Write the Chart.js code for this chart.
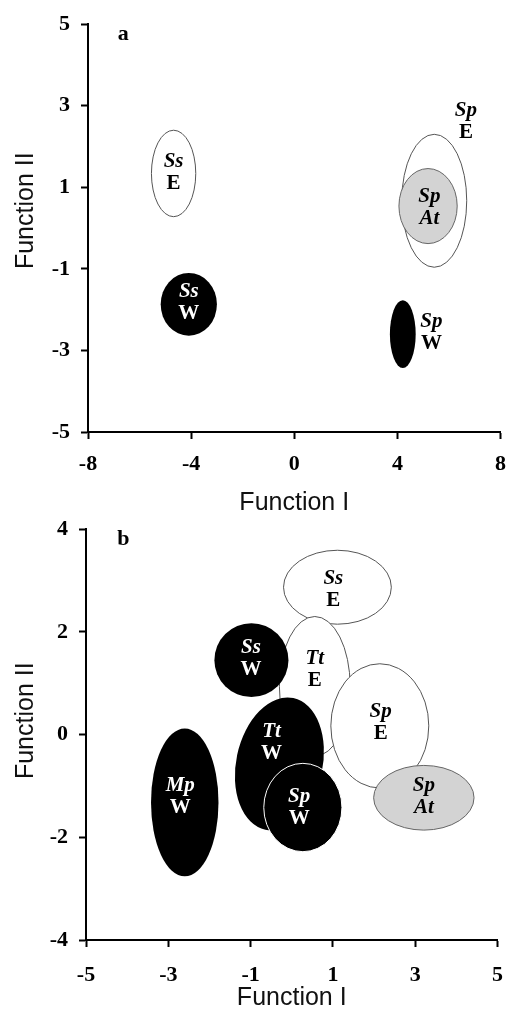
<!DOCTYPE html>
<html lang="en">
<head>
<meta charset="UTF-8">
<title>Discriminant functions</title>
<script src="https://cdn.jsdelivr.net/npm/chart.js"></script>
<style>
  html, body { margin: 0; padding: 0; background: #fff; }
  body { width: 518px; height: 1028px; position: relative; overflow: hidden; }
  canvas { position: absolute; left: 0; }
  #chartA { top: 0; }
  #chartB { top: 505px; }
</style>
</head>
<body>
<canvas id="chartA" width="518" height="518"></canvas>
<canvas id="chartB" width="518" height="523"></canvas>

<script>
// ---- panel a ----
const ticksAx = [-8, -4, 0, 4, 8];
const ticksAy = [-5, -3, -1, 1, 3, 5];
const speciesA = ['Ss', 'Ss', 'Sp', 'Sp', 'Sp'];
const groupA   = ['E', 'W', 'E', 'At', 'W'];
const centerAx = [-4.68, -4.09, 5.43, 5.19, 4.21];
const centerAy = [1.34, -1.87, 0.67, 0.54, -2.60];
const radiusAx = [0.86, 1.09, 1.26, 1.13, 0.50];
const radiusAy = [1.06, 0.77, 1.63, 0.92, 0.83];
const tiltA    = [0, 0, 0, 0, 0];
const labelAx  = [-4.68, -4.09, 6.66, 5.24, 5.32];
const labelAy  = [1.36, -1.82, 2.61, 0.50, -2.56];

// ---- panel b ----
const ticksBx = [-5, -3, -1, 1, 3, 5];
const ticksBy = [-4, -2, 0, 2, 4];
const speciesB = ['Ss', 'Tt', 'Sp', 'Sp', 'Ss', 'Tt', 'Mp', 'Sp'];
const groupB   = ['E', 'E', 'E', 'At', 'W', 'W', 'W', 'W'];
const centerBx = [1.11, 0.56, 2.14, 3.21, -0.98, -0.30, -2.60, 0.27];
const centerBy = [2.87, 0.94, 0.17, -1.23, 1.45, -0.57, -1.32, -1.42];
const radiusBx = [1.31, 0.86, 1.19, 1.22, 0.90, 1.05, 0.82, 0.95];
const radiusBy = [0.72, 1.36, 1.21, 0.63, 0.72, 1.31, 1.44, 0.86];
const tiltB    = [0, 0, 0, 0, 0, 12, 0, 0];
const labelBx  = [1.01, 0.56, 2.16, 3.21, -0.99, -0.49, -2.71, 0.18];
const labelBy  = [2.82, 1.26, 0.24, -1.20, 1.48, -0.16, -1.20, -1.43];

// look of each group
const fillFor   = { E: '#ffffff', W: '#000000', At: '#d3d3d3' };
const strokeFor = { E: '#555555', W: null, At: '#666666' };
const textFor   = { E: '#000000', W: '#ffffff', At: '#000000' };

const serif = "'Liberation Serif', 'Times New Roman', serif";
const sans = "'Liberation Sans', Arial, sans-serif";

// ellipses + their labels, placed through the chart scales
function ellipsePlugin(p) {
  return {
    id: 'ellipses',
    beforeDatasetsDraw(chart) {
      const { ctx, scales: { x, y } } = chart;
      ctx.save();
      p.species.forEach((sp, i) => {
        const cx = x.getPixelForValue(p.cx[i]);
        const cy = y.getPixelForValue(p.cy[i]);
        const rx = Math.abs(x.getPixelForValue(p.cx[i] + p.rx[i]) - cx);
        const ry = Math.abs(y.getPixelForValue(p.cy[i] + p.ry[i]) - cy);
        const g = p.group[i];
        ctx.beginPath();
        ctx.ellipse(cx, cy, rx, ry, p.tilt[i] * Math.PI / 180, 0, Math.PI * 2);
        ctx.fillStyle = fillFor[g];
        ctx.fill();
        // Sp W in panel b has a white rim where it sits on Tt W
        const stroke = (g === 'W' && p.rim && p.rim[i]) ? '#ffffff' : strokeFor[g];
        if (stroke) {
          ctx.lineWidth = 1;
          ctx.strokeStyle = stroke;
          ctx.stroke();
        }
      });
      ctx.restore();
    },
    afterDatasetsDraw(chart) {
      const { ctx, scales: { x, y } } = chart;
      ctx.save();
      ctx.textAlign = 'center';
      ctx.textBaseline = 'middle';
      p.species.forEach((sp, i) => {
        const lx = x.getPixelForValue(p.lx[i]);
        const ly = y.getPixelForValue(p.ly[i]);
        const g = p.group[i];
        // labels outside the ellipse are drawn in black
        const inside = Math.abs(p.lx[i] - p.cx[i]) < p.rx[i] && Math.abs(p.ly[i] - p.cy[i]) < p.ry[i];
        ctx.fillStyle = inside ? textFor[g] : '#000';
        ctx.font = 'italic bold 21px ' + serif;
        ctx.fillText(sp, lx, ly - 11);
        ctx.font = (g === 'At' ? 'italic ' : '') + 'bold 21px ' + serif;
        ctx.fillText(g, lx, ly + 11);
      });
      // panel letter
      ctx.fillStyle = '#000';
      ctx.font = 'bold 22px ' + serif;
      ctx.fillText(p.letter, x.getPixelForValue(p.letterPos[0]), y.getPixelForValue(p.letterPos[1]));
      ctx.restore();
    }
  };
}

function axis(ticks, title, opts) {
  return {
    type: 'linear',
    min: ticks[0],
    max: ticks[ticks.length - 1],
    afterBuildTicks: (s) => { s.ticks = ticks.map(v => ({ value: v })); },
    afterFit: opts.fit,
    grid: {
      display: true,
      drawOnChartArea: false,
      drawTicks: true,
      tickLength: 7,
      tickWidth: 2,
      tickColor: '#000'
    },
    border: { display: true, color: '#000', width: 2 },
    ticks: {
      color: '#000',
      padding: opts.tickPad,
      font: { family: serif, size: 22, weight: 'bold' }
    },
    title: {
      display: true,
      text: title,
      color: '#111',
      padding: opts.titlePad,
      font: { family: sans, size: 25, weight: 'normal' }
    }
  };
}

function makePanel(id, p, layoutPad, xOpts, yOpts, ytitle) {
  return new Chart(document.getElementById(id), {
    type: 'scatter',
    data: { datasets: [{ data: [], pointRadius: 0 }] },
    options: {
      responsive: false,
      animation: false,
      layout: { padding: layoutPad },
      plugins: { legend: { display: false }, tooltip: { enabled: false } },
      scales: {
        x: axis(p.tx, 'Function I', xOpts),
        y: axis(p.ty, ytitle, yOpts)
      }
    },
    plugins: [ellipsePlugin(p)]
  });
}

const panelA = {
  tx: ticksAx, ty: ticksAy,
  species: speciesA, group: groupA,
  cx: centerAx, cy: centerAy, rx: radiusAx, ry: radiusAy, tilt: tiltA,
  lx: labelAx, ly: labelAy,
  letter: 'a', letterPos: [-6.63, 4.76]
};
const panelB = {
  tx: ticksBx, ty: ticksBy,
  species: speciesB, group: groupB,
  cx: centerBx, cy: centerBy, rx: radiusBx, ry: radiusBy, tilt: tiltB,
  lx: labelBx, ly: labelBy, rim: [0, 0, 0, 0, 0, 0, 0, 1],
  letter: 'b', letterPos: [-4.09, 3.81]
};

makePanel('chartA', panelA,
  { top: 14, right: 11, left: 0, bottom: 0 },
  { fit: s => { s.height = 86; }, tickPad: 12, titlePad: { top: 0, bottom: 0 } },
  { fit: s => { s.width = 88; }, tickPad: 11, titlePad: { top: 11, bottom: 0 } },
  '     Function II');

makePanel('chartB', panelB,
  { top: 18, right: 13, left: 0, bottom: 0 },
  { fit: s => { s.height = 88; }, tickPad: 15, titlePad: { top: 0, bottom: 15 } },
  { fit: s => { s.width = 86; }, tickPad: 11, titlePad: { top: 11, bottom: 0 } },
  '    Function II');
</script>
</body>
</html>
